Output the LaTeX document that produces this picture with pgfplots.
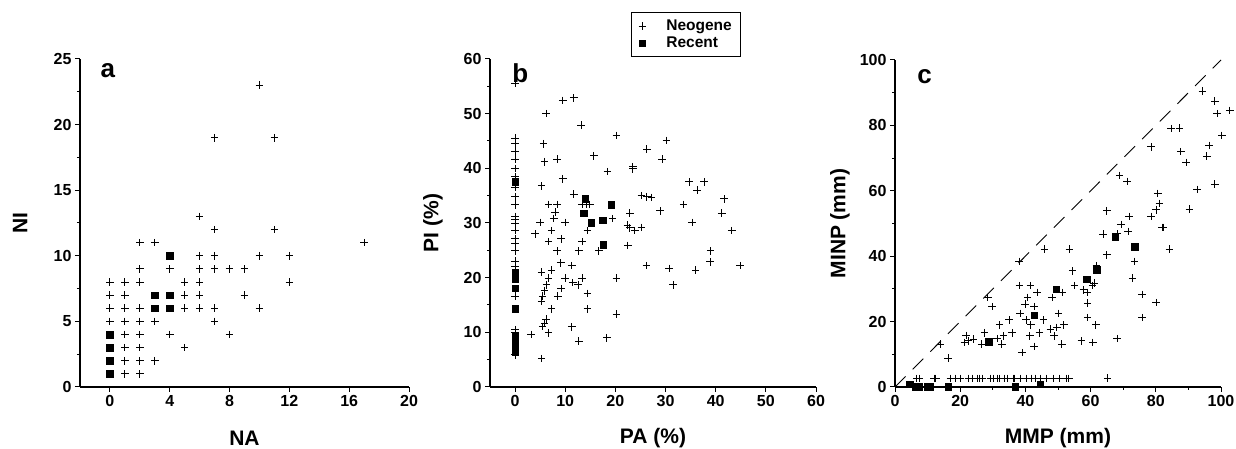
\documentclass[border=0pt]{standalone}
\usepackage{fontspec}
\setmainfont{Liberation Sans}
\usepackage{pgfplots}
\pgfplotsset{compat=1.18}
\pgfplotsset{
  panel/.style={
    scale only axis,
    axis x line*=bottom, axis y line*=left,
    axis line style={-, line width=1.1pt},
    every tick/.style={black, line width=1pt},
    tick align=outside,
    major tick length=5pt, minor tick length=3pt,
    /pgf/number format/assume math mode=true,
    tick label style={font=\fontsize{16}{18}\selectfont\bfseries},
    xticklabel={\textbf{\pgfmathprintnumber{\tick}}},
    yticklabel={\textbf{\pgfmathprintnumber{\tick}}},
    label style={font=\fontsize{21}{23}\selectfont\bfseries},
    clip=false,
  },
  neo/.style={only marks, mark=+, mark size=3.8pt, black, line width=1pt},
  rec/.style={only marks, mark=square*, mark size=3.3pt, black},
}
\newcommand{\legfont}{\fontsize{15.5}{17}\selectfont\bfseries}
\begin{document}
\begin{tikzpicture}
\useasboundingbox (0,0) rectangle (1236pt,449pt);
% ---------------- panel a
\begin{axis}[panel, at={(80pt,62pt)}, anchor=south west,
  width=329pt, height=328pt,
  xmin=-2, xmax=20, ymin=0, ymax=25,
  xtick={0,4,...,20}, ytick={0,5,...,25}, minor y tick num=1,
  xlabel={NA}, ylabel={NI},
  xlabel style={at={(axis description cs:0.5,-0.155)}, anchor=center},
  ylabel style={at={(axis description cs:-0.182,0.5)}, anchor=center},
]
\addplot[neo] coordinates {
(6,13)(7,12)(11,12)(2,11)(3,11)
(6,10)(7,10)(10,10)(12,10)
(2,9)(4,9)(6,9)(7,9)(8,9)(9,9)
(0,8)(1,8)(2,8)(5,8)(6,8)(12,8)
(0,7)(1,7)(5,7)(6,7)(9,7)
(0,6)(1,6)(2,6)(5,6)(6,6)(7,6)(10,6)
(0,5)(1,5)(2,5)(3,5)(7,5)
(1,4)(2,4)(4,4)(8,4)
(1,3)(2,3)(5,3)
(1,2)(2,2)(3,2)
(1,1)(2,1)
(10,23)(7,19)(11,19)(17,11)
};
\addplot[rec] coordinates {
(4,10)(3,7)(4,7)(3,6)(4,6)(0,4)(0,3)(0,2)(0,1)
};
\node[anchor=base west, font=\fontsize{26}{28}\selectfont\bfseries] at (rel axis cs:0.052,0.945) {a};
\end{axis}
% ---------------- panel b
\begin{axis}[panel, at={(490pt,62pt)}, anchor=south west,
  width=326pt, height=328pt,
  xmin=-5, xmax=60, ymin=0, ymax=60,
  xtick={0,10,...,60}, ytick={0,10,...,60}, minor y tick num=1,
  xlabel={PA (\%)}, ylabel={PI (\%)},
  xlabel style={at={(axis description cs:0.5,-0.155)}, anchor=center},
  ylabel style={at={(axis description cs:-0.175,0.5)}, anchor=center},
  legend style={at={(0.602,1.143)}, anchor=north, draw=black, line width=0.9pt,
    font=\legfont, inner xsep=7pt, inner ysep=6pt,
    row sep=2pt, nodes={inner ysep=1.5pt},
    /tikz/every odd column/.append style={column sep=18pt}},
  legend cell align=left,
]
\addplot[neo] coordinates {
(0,55.5)(0,45.5)(0,44.5)(0,43)(0,41.7)(0,40)(0,38.5)(0,36.5)(0,34.8)(0,33.3)
(0,31.2)(0,30.6)(0,29.9)(0,28.6)(0,27.2)(0,26.3)(0,24.9)(0,23.0)(0,22.1)
(0,16.6)(0,10.5)(0,10)(0,5.9)
(9.5,52.4)(11.7,52.9)(6.2,50)(13.2,47.9)(20.2,46)(30.2,45.1)(5.7,44.5)
(26.3,43.5)(15.7,42.3)(5.9,41.2)(8.4,41.7)(29.3,41.7)(23.5,40.3)(23.5,39.9)
(18.4,39.4)(9.5,38.1)(5.3,36.8)(34.7,37.5)(37.7,37.5)(36.3,36)(11.7,35.3)
(25.2,35)(26.3,34.8)(27.2,34.7)(41.7,34.4)(13.4,33.4)(14.2,33.4)(14.9,33.4)
(6.7,33.4)(8.4,33.4)(33.6,33.4)(8,32)(22.9,31.8)(28.9,32.2)(41.2,31.8)
(7.7,30.8)(19.4,30.8)(5,30.1)(10,30.1)(35.3,30.1)(22.4,29.6)(22.9,29.1)
(25.2,29.2)(23.9,28.6)(43.2,28.6)(7.3,28.6)(14.4,28.6)(4,28)(6.7,26.6)
(13.4,26.6)(9.2,27.1)(22.5,25.9)(8.4,24.9)(12.7,24.9)(16.7,24.9)(39,24.9)
(9.1,22.7)(11.3,22.2)(26.2,22.2)(30.7,21.7)(36,21.4)(44.9,22.2)(38.9,22.9)
(7.3,21.4)(5.3,21)(6.7,19.9)(10,19.9)(13.4,19.9)(20.2,19.9)(11.5,19.1)
(12.6,18.7)(6.3,18.7)(31.5,18.7)(9.2,18)(5.9,17.6)(14.4,17.1)(8.5,16.6)
(5.5,16.6)(5.3,15.7)(7.3,14.3)(14.4,14.3)(20.2,13.3)(6.2,12.4)(5.9,11.7)
(5.5,11.1)(11.3,11)(6.7,9.9)(3.2,9.6)(18.3,9)(12.7,8.4)(5.3,5.2)
};
\addlegendentry{\legfont Neogene}
\addplot[rec] coordinates {
(0,37.5)(0,21)(0,20.4)(0,19.8)(0,18.1)(0,14.3)(0,9.2)(0,8.4)(0,7.7)(0,7)(0,6.5)
(14,34.4)(13.7,31.8)(15.2,30.1)(17.5,30.5)(19.2,33.3)(17.6,26)
};
\addlegendentry{\legfont Recent}
\node[anchor=base west, font=\fontsize{26}{28}\selectfont\bfseries] at (rel axis cs:0.058,0.927) {b};
\end{axis}
% ---------------- panel c
\begin{axis}[panel, at={(895pt,62pt)}, anchor=south west,
  width=326pt, height=327pt,
  xmin=0, xmax=100, ymin=0, ymax=100,
  xtick={0,20,...,100}, ytick={0,20,...,100},
  minor x tick num=1, minor y tick num=1,
  xlabel={MMP (mm)}, ylabel={MINP (mm)},
  xlabel style={at={(axis description cs:0.5,-0.155)}, anchor=center},
  ylabel style={at={(axis description cs:-0.169,0.5)}, anchor=center},
]
\addplot[black, line width=0.9pt, dash pattern=on 15pt off 10pt] coordinates {(0,0)(100,100)};
\addplot[neo] coordinates {
(94.3,90.5)(98.1,87.4)(98.8,83.6)(102.7,84.6)(84.7,79)(87.3,79.2)(100.3,76.9)
(96.4,73.9)(78.6,73.4)(87.7,72)(95.7,70.6)(89.3,68.7)(68.9,64.7)(71.2,62.9)
(98.1,62)(92.7,60.4)(80.6,59.2)(81.1,56.1)(80.1,54.2)(65,53.9)(90.3,54.4)
(78.6,52.2)(71.8,52.2)(69.4,49.7)(81.9,48.8)(82.4,48.8)(71.5,47.6)(68.1,46.8)
(63.8,46.7)(84.2,42.2)(45.8,42.2)(53.5,42.2)(65,40.4)(73.5,38.4)(38.1,38.4)
(54.5,35.5)(61.8,37.1)(72.9,33.3)(55.1,31)(38.2,31)(41.5,31)(61.1,31.8)
(60.6,31)(43.6,28.9)(57.8,29.7)(59.1,28.9)(51.4,28.9)(75.8,28.3)(40.7,27.4)
(28.5,27.4)(48.2,27.4)(29.8,24.6)(39.9,25.3)(42.7,24.6)(59.1,25.6)(80.1,25.8)
(38.4,22.5)(50.2,22.5)(35,20.5)(40.2,20.5)(45.5,20.5)(41.7,19)(32.1,19)
(51.8,19)(61.6,19)(59.1,21.2)(75.8,21.2)(49.6,18.2)(47.7,17.7)(35.9,16.6)
(27.5,16.6)(44.3,16.6)(41.4,15.6)(48.8,15.6)(21.8,15.8)(33.3,15.6)(24.1,14.6)
(22.6,14.1)(31.3,14.8)(68.1,14.8)(21.3,13.6)(26.6,13.1)(32.8,13.1)(51.2,13.1)
(57.2,14.1)(60.7,13.6)(42.7,12.4)(13.9,13.1)(39,10.5)(16.3,8.8)(65.2,2.7)
(6.7,2.6)(7.5,2.6)(12,2.6)(12.5,2.6)(17,2.6)(18.5,2.6)(20,2.6)(22.5,2.6)
(23.8,2.6)(25.2,2.6)(26,2.6)(26.8,2.6)(29.3,2.6)(30.3,2.6)(31.3,2.6)(32,2.6)
(33.5,2.6)(34.5,2.6)(36.3,2.6)(36.8,2.6)(38.6,2.6)(40.4,2.6)(42,2.6)(43.2,2.6)
(44.7,2.6)(46.4,2.6)(48.7,2.6)(50.5,2.6)(52.6,2.6)(53.3,2.6)
};
\addplot[rec] coordinates {
(67.5,46)(73.6,42.9)(61.9,35.9)(58.8,33)(49.4,29.9)(42.7,22)(28.7,13.9)
(4.5,0.8)(6.2,0)(7.4,0)(10,0)(10.8,0)(16.3,0)(36.9,0)(44.5,0.8)
};
\node[anchor=base west, font=\fontsize{26}{28}\selectfont\bfseries] at (rel axis cs:0.058,0.927) {c};
\end{axis}
\end{tikzpicture}
\end{document}
